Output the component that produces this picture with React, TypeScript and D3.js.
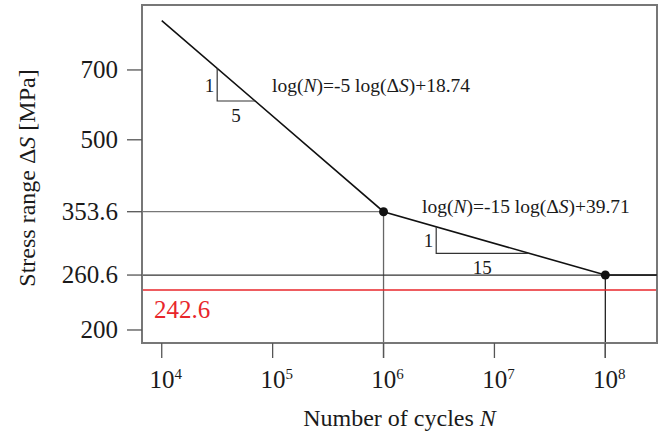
import * as d3 from 'd3';

// tick values
const cycleExponents = [4, 5, 6, 7, 8];
const stressTicks = [200, 260.6, 353.6, 500, 700];

// S-N curve (N, stress range)
const curveN = [1e4, 1e6, 1e8, 2.92e8];
const curveS = [888.2, 353.6, 260.6, 260.6];

// knee points
const kneeN = [1e6, 1e8];
const kneeS = [353.6, 260.6];

// cut-off limit
const cutoffS = 242.6;

// slope triangles: [N top, S top, S bottom, N end]
const slopeTriangles = [
  { n0: 31623, s0: 705.4, s1: 602.7, n1: 69420, rise: '1', run: '5' },
  { n0: 2985000, s0: 328.7, s1: 289.3, n1: 20250000, rise: '1', run: '15' },
];

const W = 661;
const H = 433;
const margin = { top: 5, right: 4, bottom: 90, left: 142 };
const serif = '"Liberation Serif", "Times New Roman", serif';

export default function App() {
  const x = d3.scaleLog()
    .domain([Math.pow(10, 3.822), Math.pow(10, 8.466)])
    .range([margin.left, W - margin.right]);
  const y = d3.scaleLog()
    .domain([Math.pow(10, 2.2738), Math.pow(10, 2.981)])
    .range([H - margin.bottom, margin.top]);

  const x0 = margin.left;
  const x1 = W - margin.right;
  const y0 = H - margin.bottom;
  const y1 = margin.top;
  const tickLen = 15;

  const line = d3.line<number>()
    .x((_, i) => x(curveN[i]))
    .y(d => y(d));

  return (
    <svg width={W} height={H} style={{ position: 'absolute', left: 0, top: 0 }} fontFamily={serif}>
      <rect x={0} y={0} width={W} height={H} fill="#fff" />

      {/* reference lines */}
      <line x1={x0} x2={x(kneeN[0])} y1={y(kneeS[0])} y2={y(kneeS[0])} stroke="#777" strokeWidth={1.3} />
      <line x1={x(kneeN[0])} x2={x(kneeN[0])} y1={y(kneeS[0])} y2={y0 + tickLen} stroke="#666" strokeWidth={1.3} />
      <line x1={x(kneeN[1])} x2={x(kneeN[1])} y1={y(kneeS[1])} y2={y0 + tickLen} stroke="#222" strokeWidth={1.3} />
      <line x1={x0} x2={x1} y1={y(kneeS[1])} y2={y(kneeS[1])} stroke="#333" strokeWidth={1.3} />
      <line x1={x0} x2={x1} y1={y(cutoffS)} y2={y(cutoffS)} stroke="#e8262b" strokeWidth={1.5} />
      <text x={154} y={y(cutoffS) + 28} fill="#e8262b" fontSize={25}>{cutoffS.toFixed(1)}</text>

      {/* frame */}
      <rect x={x0} y={y1} width={x1 - x0} height={y0 - y1} fill="none" stroke="#777" strokeWidth={2} />

      {/* y axis */}
      {stressTicks.map(t => (
        <g key={t}>
          <line x1={x0 - tickLen} x2={x0} y1={y(t)} y2={y(t)} stroke="#555" strokeWidth={1.3} />
          <text x={x0 - 24} y={y(t) + 8} textAnchor="end" fontSize={25} fill="#1a1a1a">{String(t)}</text>
        </g>
      ))}

      {/* x axis */}
      {cycleExponents.map(e => {
        const px = x(Math.pow(10, e));
        return (
          <g key={e}>
            <line x1={px} x2={px} y1={y0} y2={y0 + tickLen} stroke="#555" strokeWidth={1.3} />
            <text x={px + 4} y={388} textAnchor="middle" fontSize={25} fill="#1a1a1a">
              10<tspan dy={-9} fontSize={15}>{e}</tspan>
            </text>
          </g>
        );
      })}

      {/* S-N curve */}
      <path d={line(curveS) || ''} fill="none" stroke="#111" strokeWidth={1.6} />
      {kneeN.map((n, i) => (
        <circle key={n} cx={x(n)} cy={y(kneeS[i])} r={4.5} fill="#111" />
      ))}

      {/* slope triangles */}
      {slopeTriangles.map((t, i) => (
        <g key={i}>
          <path
            d={`M${x(t.n0)},${y(t.s0)}V${y(t.s1)}H${x(t.n1)}`}
            fill="none" stroke="#333" strokeWidth={1.2}
          />
          <text x={x(t.n0) - 3} y={(y(t.s0) + y(t.s1)) / 2 + 7} textAnchor="end" fontSize={19} fill="#1a1a1a">{t.rise}</text>
          <text x={(x(t.n0) + x(t.n1)) / 2} y={y(t.s1) + 21} textAnchor="middle" fontSize={19} fill="#1a1a1a">{t.run}</text>
        </g>
      ))}

      {/* equations */}
      <text x={272} y={92} fontSize={19.5} fill="#1a1a1a">
        log(<tspan fontStyle="italic">N</tspan>)=-5 log(Δ<tspan fontStyle="italic">S</tspan>)+18.74
      </text>
      <text x={422} y={213} fontSize={19.5} fill="#1a1a1a">
        log(<tspan fontStyle="italic">N</tspan>)=-15 log(Δ<tspan fontStyle="italic">S</tspan>)+39.71
      </text>

      {/* axis titles */}
      <text x={(x0 + x1) / 2} y={426} textAnchor="middle" fontSize={24} fill="#1a1a1a">
        Number of cycles <tspan fontStyle="italic">N</tspan>
      </text>
      <text transform={`translate(35,178) rotate(-90)`} textAnchor="middle" fontSize={24} fill="#1a1a1a">
        Stress range Δ<tspan fontStyle="italic">S</tspan> [MPa]
      </text>
    </svg>
  );
}
